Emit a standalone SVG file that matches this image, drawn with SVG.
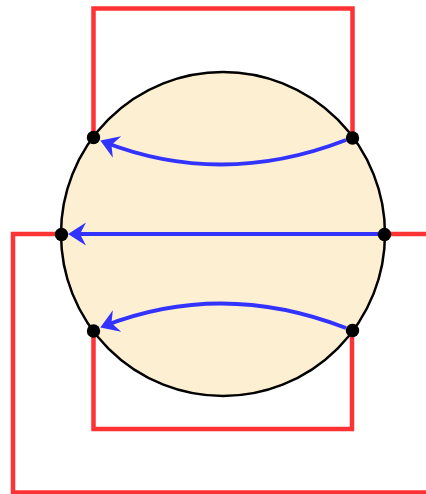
<svg xmlns="http://www.w3.org/2000/svg" width="426" height="494" viewBox="0 0 426 494">
<style>
.red{fill:none;stroke:#ff3333;stroke-width:4.5;stroke-linejoin:miter}
.blue{fill:none;stroke:#3333ff;stroke-width:4;marker-end:url(#ah)}
.dot{fill:#000}
</style>
<defs>
<marker id="ah" markerUnits="userSpaceOnUse" orient="auto" refX="0" refY="0" markerWidth="40" markerHeight="40" viewBox="-20 -20 40 40" overflow="visible">
<path d="M4,0 L-14,-11.5 L-8,0 L-14,11.5 z" fill="#3333ff"/>
</marker>
</defs>
<g id="ball">
<circle cx="223" cy="234" r="162" fill="#fdf0d2" stroke="#000" stroke-width="2.5"/>
</g>
<g id="connectors">
<polyline class="red" points="93.5,137 93.5,8.5 352.5,8.5 352.5,138"/>
<polyline class="red" points="384,234 426,234"/>
<polyline class="red" points="61.5,234 13,234 13,492.5 426,492.5"/>
<polyline class="red" points="93.5,331 93.5,429 352,429 352,331"/>
<path class="blue" d="M346,140 Q222,188 104,142"/>
<path class="blue" d="M378,234 L72,234"/>
<path class="blue" d="M346,328 Q222,280 104,326"/>
</g>
<g id="nodes">
<circle id="n1" class="dot" cx="93.5" cy="137.5" r="6.7"/>
<circle id="n2" class="dot" cx="352.5" cy="138" r="6.7"/>
<circle id="n3" class="dot" cx="61.5" cy="234.5" r="6.7"/>
<circle id="n4" class="dot" cx="384.5" cy="234.5" r="6.7"/>
<circle id="n5" class="dot" cx="93.5" cy="331" r="6.7"/>
<circle id="n6" class="dot" cx="352.5" cy="330.5" r="6.7"/>
</g>
</svg>
